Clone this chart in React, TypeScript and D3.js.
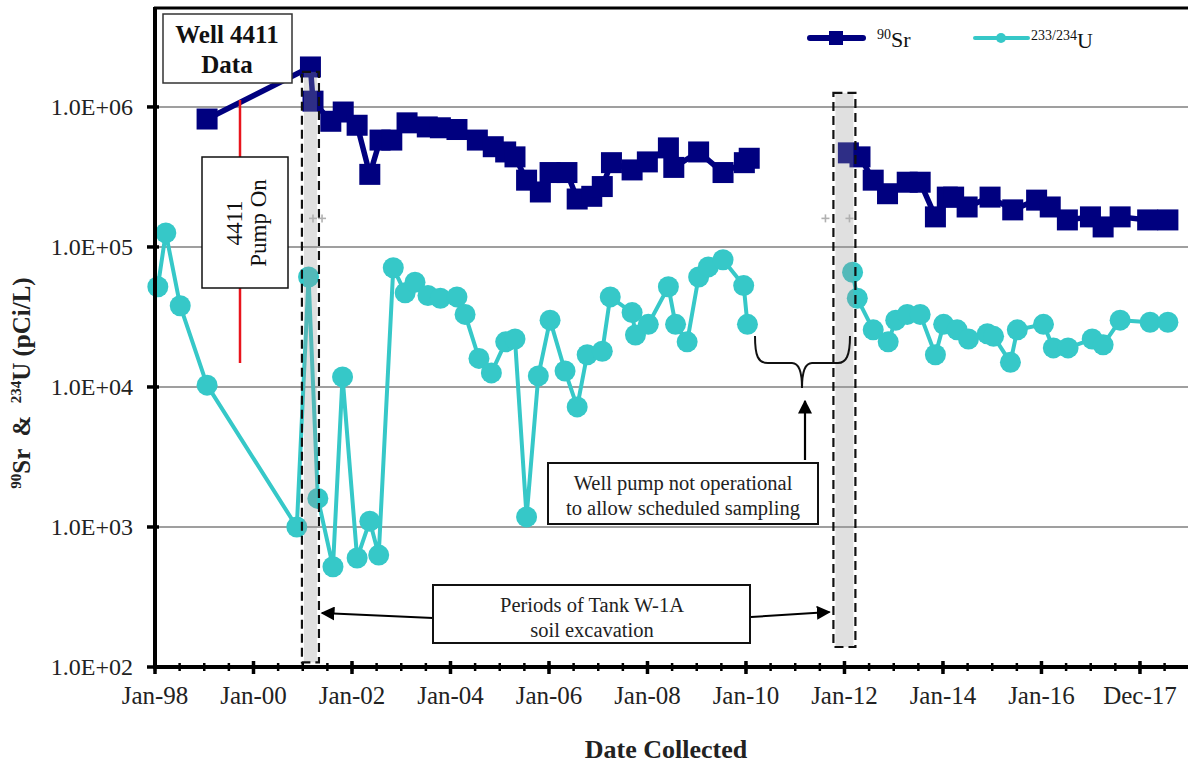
import React from "react";
import * as d3 from "d3";

const W = 1188;
const H = 767;

// ---------- axes ----------
const axisStartDate = "1998-01-04";
const axisSpanDays = 7656;
const majorStepDays = 730;
const minorStepDays = 182.5;
const xTickLabels = ["Jan-98", "Jan-00", "Jan-02", "Jan-04", "Jan-06", "Jan-08", "Jan-10", "Jan-12", "Jan-14", "Jan-16", "Dec-17"];
const yMin = 100;
const yTop = 5.09e6;
const yTickValues = [1e2, 1e3, 1e4, 1e5, 1e6];
const yTickLabels = ["1.0E+02", "1.0E+03", "1.0E+04", "1.0E+05", "1.0E+06"];

// ---------- 90Sr ----------
const srDates = [
  "1999-01-25", "2001-03-01", "2001-03-20", "2001-07-30", "2001-10-30", "2002-02-10", "2002-05-15", "2002-07-30",
  "2002-10-25", "2003-02-15", "2003-07-15", "2003-10-20", "2004-02-20", "2004-07-20", "2004-11-15", "2005-02-15",
  "2005-04-25", "2005-07-20", "2005-10-30", "2006-01-10", "2006-05-15", "2006-07-30", "2006-11-15", "2007-02-01",
  "2007-04-10", "2007-09-10", "2008-01-01", "2008-06-05", "2008-07-15", "2009-01-15", "2009-07-15", "2009-12-20",
  "2010-01-25", "2011-01-01",
  "2012-01-30", "2012-04-25", "2012-08-01", "2012-11-15", "2013-04-10", "2013-07-15", "2013-11-05", "2014-02-01",
  "2014-03-20", "2014-06-28", "2014-12-15", "2015-06-01", "2015-11-25", "2016-03-05", "2016-07-10", "2016-12-28",
  "2017-04-01", "2017-08-05", "2018-02-25", "2018-07-25",
];
const srValues: (number | null)[] = [
  8.2e5, 1.93e6, 1.1e6, 7.9e5, 9.2e5, 7.4e5, 3.3e5, 5.8e5,
  5.8e5, 7.7e5, 7.2e5, 7.1e5, 6.9e5, 5.8e5, 5.2e5, 4.77e5,
  4.4e5, 3.0e5, 2.47e5, 3.4e5, 3.4e5, 2.2e5, 2.3e5, 2.7e5,
  4.0e5, 3.55e5, 4.05e5, 5.1e5, 3.7e5, 4.77e5, 3.4e5, 4.0e5,
  4.3e5, null,
  4.7e5, 4.4e5, 3.0e5, 2.4e5, 2.9e5, 2.9e5, 1.64e5, 2.27e5,
  2.27e5, 1.93e5, 2.27e5, 1.84e5, 2.16e5, 1.93e5, 1.56e5, 1.64e5,
  1.39e5, 1.64e5, 1.56e5, 1.56e5,
];

// ---------- 233/234U ----------
const uDates = [
  "1998-01-25", "1998-03-25", "1998-07-10", "1999-01-25", "2000-11-20", "2001-02-15", "2001-04-25", "2001-08-15",
  "2001-10-25", "2002-02-10", "2002-05-15", "2002-07-20", "2002-11-05", "2003-02-01", "2003-04-15", "2003-07-20",
  "2003-10-20", "2004-02-20", "2004-04-20", "2004-08-01", "2004-11-01", "2005-02-15", "2005-04-25", "2005-07-20",
  "2005-10-15", "2006-01-10", "2006-05-01", "2006-07-30", "2006-10-12", "2007-02-01", "2007-04-01", "2007-09-10",
  "2007-10-05", "2008-01-08", "2008-06-05", "2008-07-28", "2008-10-22", "2009-01-15", "2009-03-28", "2009-07-15",
  "2009-12-15", "2010-01-12", "2011-01-01",
  "2012-03-01", "2012-04-05", "2012-08-01", "2012-11-20", "2013-01-15", "2013-04-10", "2013-07-15", "2013-11-05",
  "2014-01-05", "2014-04-15", "2014-07-08", "2014-11-25", "2015-01-10", "2015-05-15", "2015-07-05", "2016-01-15",
  "2016-03-28", "2016-07-15", "2017-01-10", "2017-04-01", "2017-08-05", "2018-03-15", "2018-07-25",
];
const uValues: (number | null)[] = [
  5.2e4, 1.26e5, 3.8e4, 1.03e4, 1.0e3, 6.1e4, 1.6e3, 5.2e2,
  1.18e4, 6.0e2, 1.1e3, 6.3e2, 7.1e4, 4.7e4, 5.6e4, 4.5e4,
  4.3e4, 4.4e4, 3.3e4, 1.6e4, 1.26e4, 2.1e4, 2.2e4, 1.18e3,
  1.2e4, 3.0e4, 1.3e4, 7.2e3, 1.7e4, 1.8e4, 4.4e4, 3.4e4,
  2.35e4, 2.8e4, 5.2e4, 2.8e4, 2.1e4, 6.1e4, 7.2e4, 8.1e4,
  5.3e4, 2.8e4, null,
  6.6e4, 4.3e4, 2.56e4, 2.1e4, 3.0e4, 3.3e4, 3.3e4, 1.7e4,
  2.8e4, 2.56e4, 2.2e4, 2.4e4, 2.3e4, 1.5e4, 2.56e4, 2.8e4,
  1.9e4, 1.9e4, 2.2e4, 2.0e4, 3.0e4, 2.9e4, 2.9e4,
];

// ---------- excavation periods ----------
const bandStarts = ["2000-12-28", "2011-10-11"];
const bandEnds = ["2001-05-03", "2012-03-22"];
const bandTops = [1.78e6, 1.26e6];
const bandBottoms = [108, 139];
const plusDates = ["2001-03-20", "2001-05-26", "2011-08-13", "2012-02-07"];
const plusValue = 1.6e5;

const NAVY = "#00007f";
const TEAL = "#36c8c8";
const SERIF = "'Liberation Serif', 'Times New Roman', serif";

export default function App() {
  const parse = d3.timeParse("%Y-%m-%d");
  const axisStart = parse(axisStartDate) as Date;
  const dayMs = 864e5;
  const axisEnd = new Date(axisStart.getTime() + axisSpanDays * dayMs);

  const left = 155;
  const bottom = 667;
  const top = 8;
  const x = d3.scaleTime().domain([axisStart, axisEnd]).range([left, W]);
  const y = d3.scaleLog().domain([yMin, yTop]).range([bottom, top]);

  const majorTicks = xTickLabels.map((_, i) => new Date(axisStart.getTime() + i * majorStepDays * dayMs));
  const minorTicks = d3.range(0, axisSpanDays, minorStepDays).map((d) => new Date(axisStart.getTime() + d * dayMs));

  type Pt = { d: Date; v: number | null };
  const sr: Pt[] = srDates.map((s, i) => ({ d: parse(s) as Date, v: srValues[i] }));
  const u: Pt[] = uDates.map((s, i) => ({ d: parse(s) as Date, v: uValues[i] }));

  const line = d3
    .line<Pt>()
    .defined((p) => p.v != null)
    .x((p) => x(p.d))
    .y((p) => y(p.v as number));

  const bands = bandStarts.map((s, i) => ({
    x0: x(parse(s) as Date),
    x1: x(parse(bandEnds[i]) as Date),
    y0: y(bandTops[i]),
    y1: y(bandBottoms[i]),
  }));

  const sq = 21;

  const arrowY1 = 613;
  const leftArrowTip = bands[0].x1 + 3;
  const rightArrowTip = bands[1].x0 - 4;

  return (
    <svg
      width={W}
      height={H}
      style={{ display: "block", background: "#fff", position: "absolute", left: 0, top: 0 }}
      fontFamily={SERIF}
    >
      <defs>
        <marker id="ah2" viewBox="0 0 10 10" refX="9" refY="5" markerWidth="14" markerHeight="14" orient="auto" markerUnits="userSpaceOnUse">
          <path d="M0,0 L10,5 L0,10 z" fill="#000" />
        </marker>
      </defs>

      {/* gridlines */}
      {yTickValues.slice(1).map((v) => (
        <line key={v} x1={left} x2={W} y1={y(v)} y2={y(v)} stroke="#7f7f7f" strokeWidth={1.5} />
      ))}

      {/* series lines */}
      <path d={line(u) || ""} fill="none" stroke={TEAL} strokeWidth={4} strokeLinejoin="round" />
      <path d={line(sr) || ""} fill="none" stroke={NAVY} strokeWidth={5.5} strokeLinejoin="round" />

      {/* markers */}
      {u.filter((p) => p.v != null).map((p, i) => (
        <circle key={"u" + i} cx={x(p.d)} cy={y(p.v as number)} r={10.5} fill={TEAL} />
      ))}
      {sr.filter((p) => p.v != null).map((p, i) => (
        <rect key={"s" + i} x={x(p.d) - sq / 2} y={y(p.v as number) - sq / 2} width={sq} height={sq} fill={NAVY} />
      ))}

      {/* excavation bands */}
      {bands.map((b, i) => (
        <g key={"b" + i}>
          <rect x={b.x0 + 2} y={b.y0} width={b.x1 - b.x0 - 4} height={b.y1 - b.y0} fill="#999" fillOpacity={0.3} />
          <rect x={b.x0} y={b.y0} width={b.x1 - b.x0} height={b.y1 - b.y0} fill="none" stroke="#111" strokeWidth={2.2} strokeDasharray="9,5" />
        </g>
      ))}
      {plusDates.map((s, i) => {
        const cx = x(parse(s) as Date);
        const cy = y(plusValue);
        return (
          <g key={"p" + i} stroke="#b0b0b0" strokeWidth={1.6}>
            <line x1={cx - 4} x2={cx + 4} y1={cy} y2={cy} />
            <line x1={cx} x2={cx} y1={cy - 4} y2={cy + 4} />
          </g>
        );
      })}

      {/* Well 4411 Data box */}
      <rect x={163} y={14} width={129} height={69} fill="#fff" stroke="#333" strokeWidth={1.5} />
      <text x={227} y={43} textAnchor="middle" fontSize={25} fontWeight="bold" fill="#111">Well 4411</text>
      <text x={227} y={73} textAnchor="middle" fontSize={25} fontWeight="bold" fill="#111">Data</text>

      {/* Pump On */}
      <line x1={240} x2={240} y1={100} y2={157} stroke="#e8141c" strokeWidth={2.5} />
      <line x1={240} x2={240} y1={288} y2={363} stroke="#e8141c" strokeWidth={2.5} />
      <rect x={202} y={157} width={86} height={131} fill="#fff" stroke="#111" strokeWidth={1.5} />
      <text transform="translate(242,223) rotate(-90)" textAnchor="middle" fontSize={23} fill="#111">4411</text>
      <text transform="translate(266,223) rotate(-90)" textAnchor="middle" fontSize={23} fill="#111">Pump On</text>

      {/* brace + well pump note */}
      <path d="M755,336 C755,356 758,363 768,363 L792,363 C798,363 802,370 802,388 C802,370 806,363 812,363 L838,363 C846,363 850,356 850,336" fill="none" stroke="#111" strokeWidth={2} />
      <line x1={805} x2={805} y1={460} y2={401} stroke="#000" strokeWidth={2.2} markerEnd="url(#ah2)" />
      <rect x={548} y={463} width={270} height={61} fill="#fff" stroke="#111" strokeWidth={2} />
      <text x={683} y={490} textAnchor="middle" fontSize={20.5} fill="#222">Well pump not operational</text>
      <text x={683} y={515} textAnchor="middle" fontSize={20.5} fill="#222">to allow scheduled sampling</text>

      {/* periods note */}
      <line x1={433} x2={leftArrowTip} y1={618} y2={arrowY1} stroke="#000" strokeWidth={2} markerEnd="url(#ah2)" />
      <line x1={751} x2={rightArrowTip} y1={617} y2={arrowY1 - 1} stroke="#000" strokeWidth={2} markerEnd="url(#ah2)" />
      <rect x={433} y={585} width={317} height={58} fill="#fff" stroke="#111" strokeWidth={2} />
      <text x={592} y={612} textAnchor="middle" fontSize={20.5} fill="#222">Periods of Tank W-1A</text>
      <text x={592} y={637} textAnchor="middle" fontSize={20.5} fill="#222">soil excavation</text>

      {/* legend */}
      <line x1={810} x2={863} y1={38} y2={38} stroke={NAVY} strokeWidth={6} strokeLinecap="round" />
      <rect x={829} y={31} width={14} height={14} fill={NAVY} />
      <text x={877} y={47} fontSize={22} fill="#111">
        <tspan fontSize={14} dy={-8}>90</tspan>
        <tspan dy={8}>Sr</tspan>
      </text>
      <line x1={975} x2={1028} y1={38} y2={38} stroke={TEAL} strokeWidth={4} strokeLinecap="round" />
      <circle cx={1001} cy={38} r={5} fill={TEAL} />
      <text x={1031} y={48} fontSize={22} fill="#111">
        <tspan fontSize={14} dy={-8}>233/234</tspan>
        <tspan dy={8}>U</tspan>
      </text>

      {/* axes */}
      <line x1={left - 1} x2={W} y1={top} y2={top} stroke="#000" strokeWidth={3} />
      <line x1={left} x2={left} y1={top - 1} y2={bottom + 2} stroke="#000" strokeWidth={4} />
      <line x1={left - 2} x2={W} y1={bottom} y2={bottom} stroke="#000" strokeWidth={4} />
      {yTickValues.map((v, i) => (
        <g key={"yt" + i}>
          <line x1={left - 8} x2={left + 4} y1={y(v)} y2={y(v)} stroke="#000" strokeWidth={3.5} />
          <text x={133} y={y(v) + 8} textAnchor="end" fontSize={24} fill="#222">{yTickLabels[i]}</text>
        </g>
      ))}
      {minorTicks.map((d, i) => (
        <line key={"mt" + i} x1={x(d)} x2={x(d)} y1={bottom - 4} y2={bottom + 4} stroke="#000" strokeWidth={2.5} />
      ))}
      {majorTicks.map((d, i) => (
        <g key={"xt" + i}>
          <line x1={x(d)} x2={x(d)} y1={bottom - 6} y2={bottom + 7} stroke="#000" strokeWidth={3.5} />
          <text x={x(d)} y={704} textAnchor="middle" fontSize={25} fill="#222">{xTickLabels[i]}</text>
        </g>
      ))}

      {/* axis titles */}
      <text x={666} y={758} textAnchor="middle" fontSize={26} fontWeight="bold" fill="#222">Date Collected</text>
      <text transform="translate(30,383) rotate(-90)" textAnchor="middle" fontSize={25} fontWeight="bold" fill="#222" style={{ whiteSpace: "pre" }}>
        <tspan fontSize={15} dy={-9}>90</tspan>
        <tspan dy={9}>{"Sr  &  "}</tspan>
        <tspan fontSize={15} dy={-9}>234</tspan>
        <tspan dy={9}>U (pCi/L)</tspan>
      </text>
    </svg>
  );
}
